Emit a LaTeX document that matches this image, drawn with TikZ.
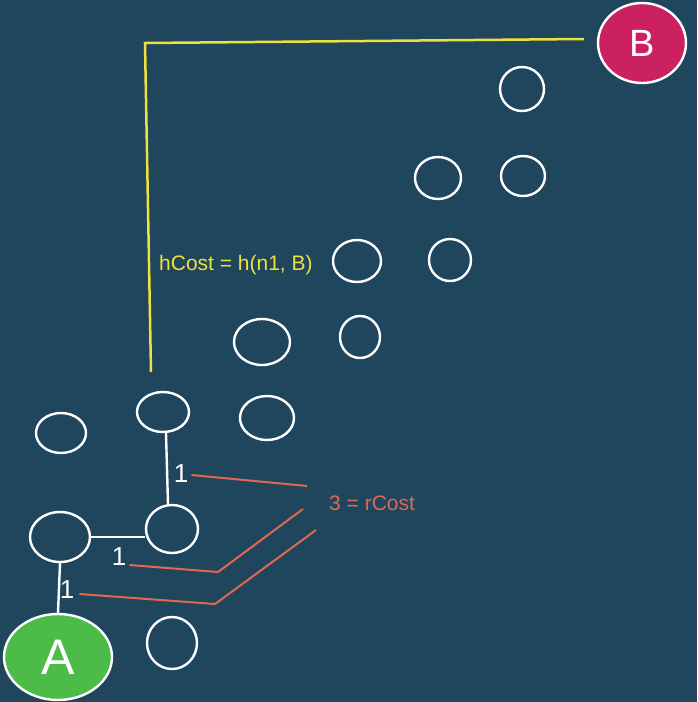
\documentclass[tikz,border=0pt]{standalone}
\usepackage{fontspec}
\setmainfont{Liberation Sans}
\usetikzlibrary{shapes.geometric}
\definecolor{bg}{HTML}{20465E}
\definecolor{nodegreen}{HTML}{4DBB47}
\definecolor{nodered}{HTML}{CC2160}
\definecolor{hyellow}{HTML}{EDE13C}
\definecolor{rcoral}{HTML}{E0684E}
\tikzset{
  blob/.style={ellipse, draw=white, line width=2.4pt, inner sep=0pt},
  edge/.style={draw=white, line width=2.4pt},
  costlbl/.style={text=white, font=\fontsize{26}{26}\selectfont, inner sep=1pt},
  redline/.style={draw=rcoral, line width=2pt},
  yline/.style={draw=hyellow, line width=2.5pt},
}
\begin{document}
\begin{tikzpicture}[x=1pt,y=-1pt]
\fill[bg] (0,0) rectangle (697,702);
\useasboundingbox (0,0) rectangle (697,702);
% start and goal
\node[blob, fill=nodered, minimum width=88, minimum height=80] (B) at (642,43) {\textcolor{white}{\fontsize{38}{38}\selectfont B}};
\node[blob, fill=nodegreen, minimum width=108, minimum height=86] (A) at (58,657) {\textcolor{white}{\fontsize{50}{50}\selectfont A}};
% other nodes
\node[blob, minimum width=44, minimum height=44] (c1) at (522,89) {};
\node[blob, minimum width=46, minimum height=42] (c2) at (438,178) {};
\node[blob, minimum width=44, minimum height=40] (c3) at (523,176) {};
\node[blob, minimum width=48, minimum height=42] (c4) at (357,261) {};
\node[blob, minimum width=42, minimum height=42] (c5) at (450,260) {};
\node[blob, minimum width=56, minimum height=46] (c6) at (262,342) {};
\node[blob, minimum width=40, minimum height=42] (c7) at (360,337) {};
\node[blob, minimum width=52, minimum height=40] (n1) at (163,412) {};
\node[blob, minimum width=50, minimum height=40] (c8) at (61,433) {};
\node[blob, minimum width=54, minimum height=44] (c9) at (267,418) {};
\node[blob, minimum width=52, minimum height=48] (n2) at (172,529) {};
\node[blob, minimum width=60, minimum height=50] (n3) at (60,537) {};
\node[blob, minimum width=50, minimum height=52] (c10) at (172,643) {};
% edges of the path
\draw[edge] ([xshift=3pt]n1.south) -- ([xshift=-4pt]n2.north);
\draw[edge] (n3.east) -- (n2.west |- n3.east);
\draw[edge] (n3.south) -- (A.north);
% edge costs
\node[costlbl] (w1) at (181,474) {1};
\node[costlbl] (w2) at (119,557) {1};
\node[costlbl] (w3) at (67,590) {1};
% rCost annotation
\node[text=rcoral, font=\fontsize{21}{21}\selectfont, anchor=west, inner sep=0pt] (rc) at (329,503) {3 = rCost};
\coordinate (r1) at (307,486);
\coordinate (k2) at (218,572);
\coordinate (r2) at (303,509);
\coordinate (k3) at (215,604);
\coordinate (r3) at (316,530);
\draw[redline] (w1.east) ++(2,1) -- (r1);
\draw[redline] (w2.east) ++(2,8) -- (k2) -- (r2);
\draw[redline] (w3.east) ++(4,4) -- (k3) -- (r3);
% hCost annotation
\coordinate (y0) at (151,372);
\coordinate (yc) at (145,43);
\coordinate (y1) at (584,39);
\draw[yline] (y0) -- (yc) -- (y1);
\node[text=hyellow, font=\fontsize{21}{21}\selectfont, anchor=west, inner sep=0pt] (hc) at (159,265) {hCost = h(n1, B)};
\end{tikzpicture}
\end{document}
